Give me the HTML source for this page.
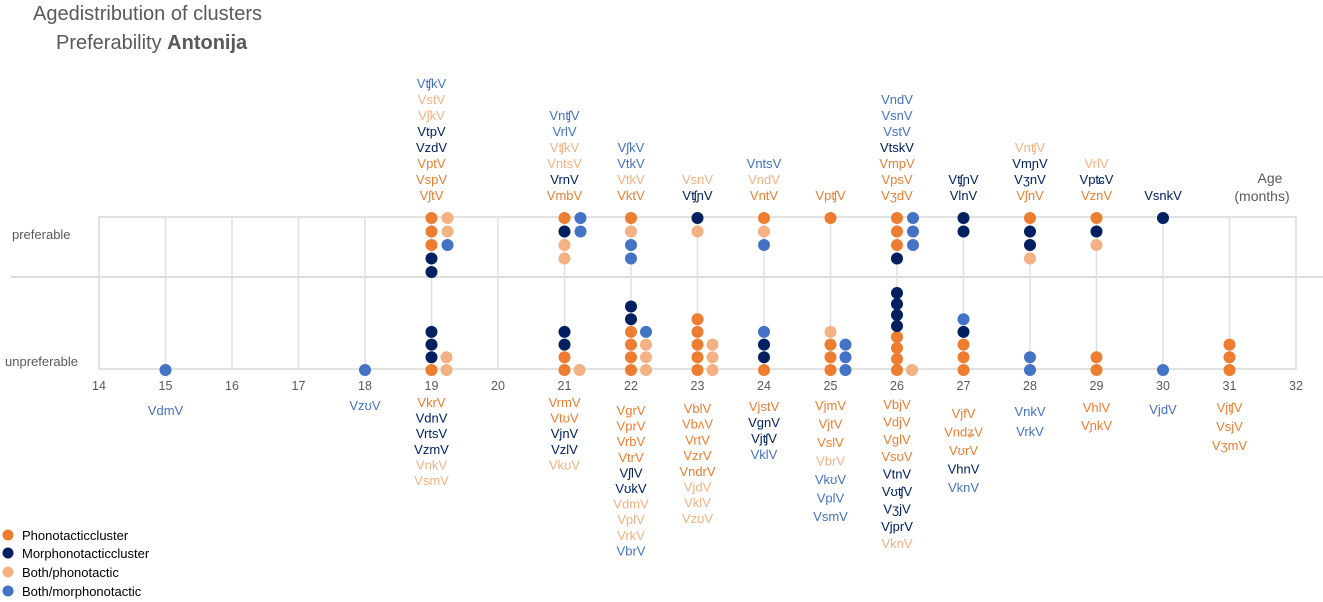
<!DOCTYPE html>
<html><head><meta charset="utf-8"><style>
html,body{margin:0;padding:0;background:#fff;width:1323px;height:602px;overflow:hidden}
svg{display:block;font-family:"Liberation Sans",sans-serif}
</style></head><body>
<svg id="chart" width="1323" height="602">
<text x="33" y="20" font-size="20" fill="#595959">Agedistribution of clusters</text>
<text x="56" y="49" font-size="20" fill="#595959">Preferability <tspan font-weight="bold">Antonija</tspan></text>
<text x="12" y="239" font-size="13" fill="#595959">preferable</text>
<text x="5" y="366" font-size="13" fill="#595959">unpreferable</text>
<text x="1270" y="183" font-size="14" fill="#595959" text-anchor="middle">Age</text>
<text x="1262" y="201" font-size="14" fill="#595959" text-anchor="middle">(months)</text>
<g id="grid"></g><g id="marks"></g><g id="labels"></g>
<g>
<circle cx="8" cy="535" r="5.5" fill="#ED7D31"/><text x="22" y="540" font-size="13" fill="#000">Phonotacticcluster</text>
<circle cx="8" cy="553" r="5.5" fill="#002060"/><text x="22" y="558" font-size="13" fill="#000">Morphonotacticcluster</text>
<circle cx="8" cy="572" r="5.5" fill="#F4B183"/><text x="22" y="577" font-size="13" fill="#000">Both/phonotactic</text>
<circle cx="8" cy="591" r="5.5" fill="#4472C4"/><text x="22" y="596" font-size="13" fill="#000">Both/morphonotactic</text>
</g>
</svg>
<script>
const ages = [15,18,19,21,22,23,24,25,26,27,28,29,30,31];
const prefCol1 = [[],[],["P","P","P","M","M"],["P","M","BP","BP"],["P","BP","BM","BM"],["M","BP"],["P","BP","BM"],["P"],["P","P","P","M"],["M","M"],["P","M","M","BP"],["P","M","BP"],["M"],[]];
const prefCol2 = [[],[],["BP","BP","BM"],["BM","BM"],[],[],[],[],["BM","BM","BM"],[],[],[],[],[]];
const unprefCol1 = [["BM"],["BM"],["P","M","M","M"],["P","P","M","M"],["P","P","P","P","M","M"],["P","P","P","P","P"],["P","M","M","BM"],["P","P","P","BP"],["P","P","P","P","M","M","M","M"],["P","P","P","M","BM"],["BM","BM"],["P","P"],["BM"],["P","P","P"]];
const unprefCol2 = [[],[],["BP","BP"],["BP"],["BP","BP","BP","BM"],["BP","BP","BP"],[],["BM","BM","BM"],["BP"],[],[],[],[],[]];
const aboveLabels = [[],[],
 [["VʧkV","BM"],["VstV","BP"],["VʃkV","BP"],["VtpV","M"],["VzdV","M"],["VptV","P"],["VspV","P"],["VʃtV","P"]],
 [["VnʧV","BM"],["VrlV","BM"],["VʧkV","BP"],["VntsV","BP"],["VrnV","M"],["VmbV","P"]],
 [["VʃkV","BM"],["VtkV","BM"],["VtkV","BP"],["VktV","P"]],
 [["VsnV","BP"],["VʧɲV","M"]],
 [["VntsV","BM"],["VndV","BP"],["VntV","P"]],
 [["VpʧV","P"]],
 [["VndV","BM"],["VsnV","BM"],["VstV","BM"],["VtskV","M"],["VmpV","P"],["VpsV","P"],["VʒdV","P"]],
 [["VʧɲV","M"],["VlnV","M"]],
 [["VnʧV","BP"],["VmɲV","M"],["VʒnV","M"],["VʃnV","P"]],
 [["VrlV","BP"],["VpʨV","M"],["VznV","P"]],
 [["VsnkV","M"]],
 []];
const belowLabels = [
 [["VdmV","BM"]],[["VzʊV","BM"]],
 [["VkrV","P"],["VdnV","M"],["VrtsV","M"],["VzmV","M"],["VnkV","BP"],["VsmV","BP"]],
 [["VrmV","P"],["VtʊV","P"],["VjnV","M"],["VzlV","M"],["VkʊV","BP"]],
 [["VgrV","P"],["VprV","P"],["VrbV","P"],["VtrV","P"],["VʃlV","M"],["VʊkV","M"],["VdmV","BP"],["VplV","BP"],["VrkV","BP"],["VbrV","BM"]],
 [["VblV","P"],["VbʌV","P"],["VrtV","P"],["VzrV","P"],["VndrV","P"],["VjdV","BP"],["VklV","BP"],["VzʊV","BP"]],
 [["VjstV","P"],["VgnV","M"],["VjʧV","M"],["VklV","BM"]],
 [["VjmV","P"],["VjtV","P"],["VslV","P"],["VbrV","BP"],["VkʊV","BM"],["VplV","BM"],["VsmV","BM"]],
 [["VbjV","P"],["VdjV","P"],["VglV","P"],["VsʊV","P"],["VtnV","M"],["VʊʧV","M"],["VʒjV","M"],["VjprV","M"],["VknV","BP"]],
 [["VjfV","P"],["VndʑV","P"],["VʊrV","P"],["VhnV","M"],["VknV","BM"]],
 [["VnkV","BM"],["VrkV","BM"]],
 [["VhlV","P"],["VɲkV","P"]],
 [["VjdV","BM"]],
 [["VjʧV","P"],["VsjV","P"],["VʒmV","P"]]];
const xTicks = [14,15,16,17,18,19,20,21,22,23,24,25,26,27,28,29,30,31,32];

/* layout (not data): per-age start baseline and line step for the labels below the axis */
const belowLayout = {15:[415,16],18:[410,16],19:[407,15.6],21:[407,15.6],22:[415,15.6],23:[413,15.7],24:[411,16],25:[410,18.5],26:[409,17.4],27:[418,18.5],28:[416,20],29:[412,18],30:[414,16],31:[412,19]};
const COLORS = {P:"#ED7D31",M:"#002060",BP:"#F4B183",BM:"#4472C4"};
const NS = "http://www.w3.org/2000/svg";
const X0 = 99, X1 = 1296, TOP = 217, MID = 277, BOT = 369;
function xScale(a){ return X0 + (a - 14) * (X1 - X0) / 18; }
function mk(tag, attrs, parent){ const e = document.createElementNS(NS, tag); for (const k in attrs) e.setAttribute(k, attrs[k]); parent.appendChild(e); return e; }

const grid = document.getElementById('grid');
const marks = document.getElementById('marks');
const labels = document.getElementById('labels');

mk('rect',{x:X0,y:TOP,width:X1-X0,height:BOT-TOP,fill:"none",stroke:"#d9d9d9","stroke-width":1.5},grid);
const mid = mk('line',{x1:11,y1:MID,x2:1323,y2:MID,stroke:"#c8c8c8","stroke-width":1.2},grid);


xTicks.forEach(t => {
  const x = xScale(t);
  const g = mk('line',{x1:x,y1:TOP,x2:x,y2:BOT,stroke:"#e0e0e0","stroke-width":1.5},grid);
  
  
  const tl = mk('text',{x:x,y:390,"font-size":12.5,fill:"#595959","text-anchor":"middle"},grid);
  tl.textContent = t;
  
  
});

function dot(cx, cy, cat, name){
  const c = mk('circle',{cx:cx,cy:cy,r:6,fill:COLORS[cat]},marks);
  
  
}

ages.forEach((a, i) => {
  const x = xScale(a);
  const p1 = prefCol1[i], p2 = prefCol2[i], u1 = unprefCol1[i], u2 = unprefCol2[i];
  const sp = (arr) => arr.length > 6 ? 11 : 12.7;
  p1.forEach((c, j) => dot(x, TOP + 1 + j * 13.5, c, 'dot-pref-' + a));
  p2.forEach((c, j) => dot(x + 16, TOP + 1 + j * 13.5, c, 'dot-pref-' + a));
  u1.forEach((c, j) => dot(x, BOT + 1 - j * sp(u1), c, 'dot-unpref-' + a));
  u2.forEach((c, j) => dot(x + 15, BOT + 1 - j * sp(u2), c, 'dot-unpref-' + a));
  const ab = aboveLabels[i];
  ab.forEach((l, j) => {
    const t = mk('text',{x:x,y:200 - (ab.length - 1 - j) * 16,"font-size":13,fill:COLORS[l[1]],"text-anchor":"middle"},labels);
    t.textContent = l[0];
    
    
  });
  const be = belowLabels[i];
  const lay = belowLayout[a] || [410,16];
  be.forEach((l, j) => {
    const t = mk('text',{x:x,y:lay[0] + j * lay[1],"font-size":13,fill:COLORS[l[1]],"text-anchor":"middle"},labels);
    t.textContent = l[0];
    
    
  });
});
</script>
</body></html>
